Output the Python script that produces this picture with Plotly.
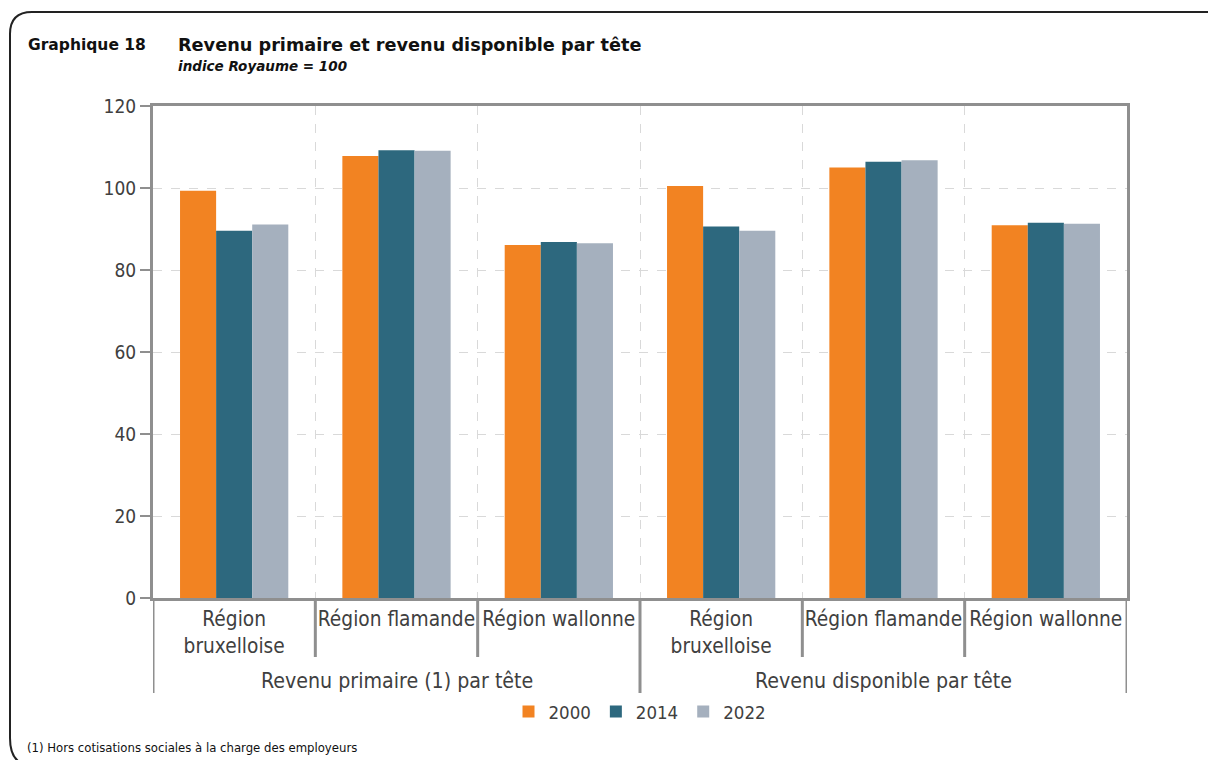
import plotly.graph_objects as go

# ---- data ----
groups = ["Revenu primaire (1) par tête", "Revenu disponible par tête"]
regions = ["Région<br>bruxelloise", "Région flamande", "Région wallonne"]
years = ["2000", "2014", "2022"]
v2000 = [99.3, 107.8, 86.1, 100.5, 105.0, 90.9]
v2014 = [89.6, 109.2, 86.8, 90.6, 106.4, 91.5]
v2022 = [91.1, 109.1, 86.5, 89.6, 106.75, 91.3]
colors = ["#F28322", "#2D687E", "#A5B0BE"]

W, H = 1208, 760
ML, MR, MT, MB = 153, W - 1127, 106, H - 598
PW, PH = W - ML - MR, H - MT - MB
FONT = "DejaVu Sans Condensed"
TXT = "#404040"
AX = "#8f8f8f"


def px(x):
    return (x - ML) / PW


def py(y):
    return (H - MB - y) / PH


cats = [r for _ in groups for r in regions]
xpos = list(range(len(cats)))

fig = go.Figure()
for name, vals, col in zip(years, [v2000, v2014, v2022], colors):
    fig.add_trace(go.Bar(x=xpos, y=vals, name=name, marker=dict(color=col, line=dict(width=0))))

fig.update_layout(
    width=W, height=H,
    margin=dict(l=ML, r=MR, t=MT, b=MB),
    paper_bgcolor="white", plot_bgcolor="white",
    barmode="group", bargap=0.333, bargroupgap=0,
    font=dict(family=FONT, color=TXT, size=18),
    showlegend=True,
    legend=dict(orientation="h", x=0.5, xanchor="center", y=py(712), yanchor="middle",
                font=dict(size=18.5, color=TXT), itemwidth=30, traceorder="normal"),
)
fig.update_xaxes(
    range=[-0.5, len(cats) - 0.5],
    tickvals=xpos, ticktext=cats, ticks="", showgrid=False,
    tickfont=dict(size=20.7, color=TXT),
    showline=True, linecolor=AX, linewidth=3, mirror=True,
    minor=dict(tickvals=[i + 0.5 for i in range(len(cats) - 1)], showgrid=True,
               gridcolor="#d9d9d9", griddash="dash", gridwidth=1, ticks=""),
    zeroline=False,
)
fig.update_yaxes(
    range=[0, 120], dtick=20, ticks="outside", ticklen=10, tickcolor=AX, tickwidth=2,
    tickfont=dict(size=19, color=TXT),
    showgrid=True, gridcolor="#d9d9d9", griddash="dash", gridwidth=1,
    showline=True, linecolor=AX, linewidth=3, mirror=True, zeroline=False,
)

# separators under the axis
shapes = []
for b in [0.5, 1.5, 3.5, 4.5]:
    shapes.append(dict(type="line", xref="x", yref="paper", x0=b, x1=b, y0=0, y1=py(657),
                       line=dict(color=AX, width=3)))
for b in [-0.5, 2.5, 5.5]:
    shapes.append(dict(type="line", xref="x", yref="paper", x0=b, x1=b, y0=0, y1=py(693),
                       line=dict(color=AX, width=3)))
# rounded frame
path = (f"M {px(1215)},{py(12)} L {px(32)},{py(12)} Q {px(10)},{py(12)} {px(10)},{py(34)} "
        f"L {px(10)},{py(738)} Q {px(10)},{py(760)} {px(24)},{py(764)}")
shapes.append(dict(type="path", xref="paper", yref="paper", path=path,
                   line=dict(color="#222222", width=2)))
fig.update_layout(shapes=shapes)

ann = []
for gi, g in enumerate(groups):
    ann.append(dict(text=g, xref="x", yref="paper", x=gi * 3 + 1, y=py(680), showarrow=False,
                    xanchor="center", yanchor="middle", font=dict(size=21.2, color=TXT)))
ann.append(dict(text="<b>Graphique 18</b>", xref="paper", yref="paper", x=px(26), y=py(45),
                xanchor="left", yanchor="middle", showarrow=False,
                font=dict(size=15.5, color="#111111", family="DejaVu Sans")))
ann.append(dict(text="<b>Revenu primaire et revenu disponible par tête</b>", xref="paper", yref="paper",
                x=px(176), y=py(45), xanchor="left", yanchor="middle", showarrow=False,
                font=dict(size=17.7, color="#111111", family="DejaVu Sans")))
ann.append(dict(text="<b><i>indice Royaume = 100</i></b>", xref="paper", yref="paper",
                x=px(176), y=py(66), xanchor="left", yanchor="middle", showarrow=False,
                font=dict(size=13.5, color="#111111", family="DejaVu Sans")))
ann.append(dict(text="(1) Hors cotisations sociales à la charge des employeurs", xref="paper", yref="paper",
                x=px(25), y=py(747), xanchor="left", yanchor="middle", showarrow=False,
                font=dict(size=13, color="#111111", family=FONT)))
fig.update_layout(annotations=ann)

fig.write_html("out.html")
